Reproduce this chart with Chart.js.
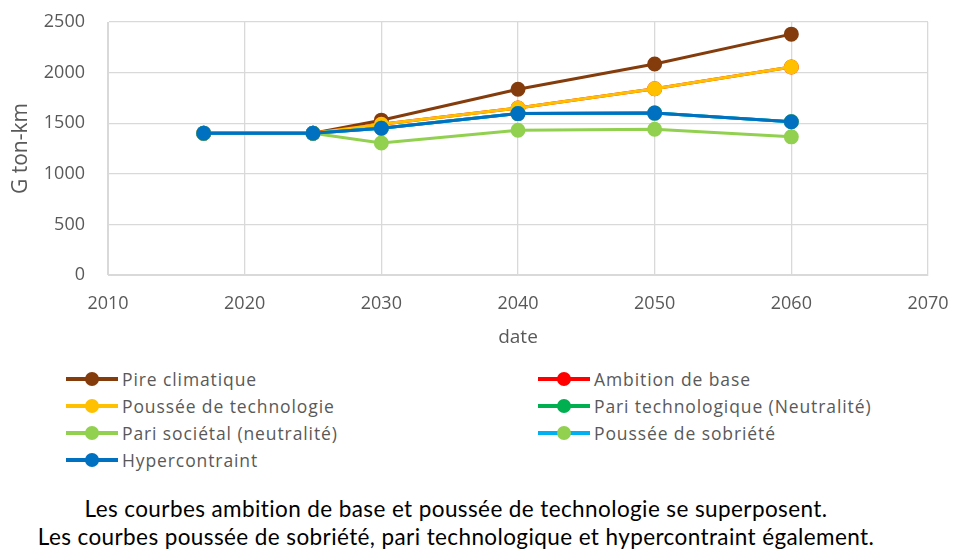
<!DOCTYPE html>
<html>
<head>
<meta charset="utf-8">
<script src="https://cdn.jsdelivr.net/npm/chart.js@4.4.1/dist/chart.umd.min.js"></script>
<style>
  body { margin: 0; background: #fff; }
  #wrap { position: relative; width: 955px; height: 550px; font-family: "Open Sans", sans-serif; }
  #box { position: absolute; left: 0; top: 0; width: 955px; height: 355px; }
  #legend { position: absolute; left: 0; top: 366px; width: 955px; }
  .item { position: absolute; height: 26px; display: flex; align-items: center; font-size: 17.5px; letter-spacing: 0.9px; color: #595959; }
  .sym { position: relative; width: 52px; height: 20px; margin-right: 4px; }
  .sym .ln { position: absolute; left: 0; right: 0; top: 8px; height: 4px; }
  .sym .dot { position: absolute; left: 19px; top: 3px; width: 14px; height: 14px; border-radius: 50%; }
  .cap { position: absolute; left: 0; width: 912px; text-align: center; font-family: "Lato", sans-serif; font-size: 22.5px; letter-spacing: 0.4px; color: #000; }
</style>
</head>
<body>
<div id="wrap">
  <div id="box"><canvas id="lineChart"></canvas></div>
  <div id="legend"></div>
  <div class="cap" style="top:495px">Les courbes ambition de base et poussée de technologie se superposent.</div>
  <div class="cap" style="top:523px">Les courbes poussée de sobriété, pari technologique et hypercontraint également.</div>
</div>
<script>
// years of the data points
const years = [2017, 2025, 2030, 2040, 2050, 2060];

// G ton-km per scenario
const pireClimatique = [1400, 1400, 1530, 1835, 2085, 2380];
const ambitionDeBase = [1400, 1400, 1490, 1650, 1840, 2055];
const pousseeTechnologie = [1400, 1400, 1490, 1650, 1840, 2055];
const pariTechnologique = [1400, 1400, 1450, 1595, 1600, 1515];
const pariSocietal = [1400, 1400, 1305, 1430, 1440, 1365];
const pousseeSobriete = [1400, 1400, 1450, 1595, 1600, 1515];
const hypercontraint = [1400, 1400, 1450, 1595, 1600, 1515];

const seriesNames = ['Pire climatique', 'Ambition de base', 'Poussée de technologie',
    'Pari technologique (Neutralité)', 'Pari sociétal (neutralité)', 'Poussée de sobriété', 'Hypercontraint'];
const seriesValues = [pireClimatique, ambitionDeBase, pousseeTechnologie, pariTechnologique,
    pariSocietal, pousseeSobriete, hypercontraint];
const lineColors = ['#843c0c', '#ff0000', '#ffc000', '#00b050', '#92d050', '#00b0f0', '#0070c0'];
const dotColors = ['#843c0c', '#ff0000', '#ffc000', '#00b050', '#92d050', '#92d050', '#0070c0'];

const xTicks = [2010, 2020, 2030, 2040, 2050, 2060, 2070];

let datasets = seriesNames.map((name, i) => ({
    label: name,
    data: years.map((y, j) => ({ x: y, y: seriesValues[i][j] })),
    borderColor: lineColors[i],
    backgroundColor: dotColors[i],
    pointBackgroundColor: dotColors[i],
    pointBorderColor: dotColors[i],
    borderWidth: 3,
    pointRadius: 6,
    pointHoverRadius: 6,
    // later series are painted on top, like in the spreadsheet
    order: seriesNames.length - i
}));

let ctx = document.getElementById('lineChart').getContext('2d');
let chart = new Chart(ctx, {
    type: 'line',
    data: { datasets: datasets },
    options: {
        responsive: true,
        maintainAspectRatio: false,
        animation: false,
        layout: { padding: { top: 22, right: 27, left: 0, bottom: 0 } },
        plugins: { legend: { display: false }, tooltip: { enabled: false } },
        scales: {
            x: {
                type: 'linear',
                min: 2010,
                max: 2070,
                afterBuildTicks: axis => { axis.ticks = xTicks.map(v => ({ value: v })); },
                afterFit: axis => {
                    axis.height = 80;
                    axis.paddingLeft = 0;
                    axis.paddingRight = 0;
                },
                ticks: {
                    color: '#595959',
                    font: { family: 'Open Sans', size: 18 },
                    padding: 18,
                    callback: v => String(v)
                },
                grid: { color: '#d9d9d9', lineWidth: 1.3, drawTicks: false },
                border: { color: '#d9d9d9' },
                title: {
                    display: true, text: 'date', color: '#595959',
                    font: { family: 'Open Sans', size: 19 }, padding: { top: 10, bottom: 6 }
                }
            },
            y: {
                min: 0,
                max: 2500,
                afterFit: axis => {
                    axis.width = 108;
                    axis.paddingTop = 0;
                    axis.paddingBottom = 0;
                },
                ticks: {
                    stepSize: 500,
                    color: '#595959',
                    font: { family: 'Open Sans', size: 18 },
                    padding: 23,
                    callback: v => String(v)
                },
                grid: { color: '#d9d9d9', lineWidth: 1.3, drawTicks: false },
                border: { color: '#d9d9d9' },
                title: {
                    display: true, text: 'G ton-km', color: '#595959',
                    font: { family: 'Open Sans', size: 21 }, padding: { top: 8, bottom: 0 }
                }
            }
        }
    }
});

// legend in two columns, built from the same names and colours
let legend = document.getElementById('legend');
seriesNames.forEach((name, i) => {
    let item = document.createElement('div');
    item.className = 'item';
    item.style.left = (i % 2 === 0 ? 66 : 538) + 'px';
    item.style.top = (Math.floor(i / 2) * 27) + 'px';
    item.innerHTML = '<span class="sym"><span class="ln" style="background:' + lineColors[i] +
        '"></span><span class="dot" style="background:' + dotColors[i] + '"></span></span>' + name;
    legend.appendChild(item);
});
</script>
</body>
</html>
